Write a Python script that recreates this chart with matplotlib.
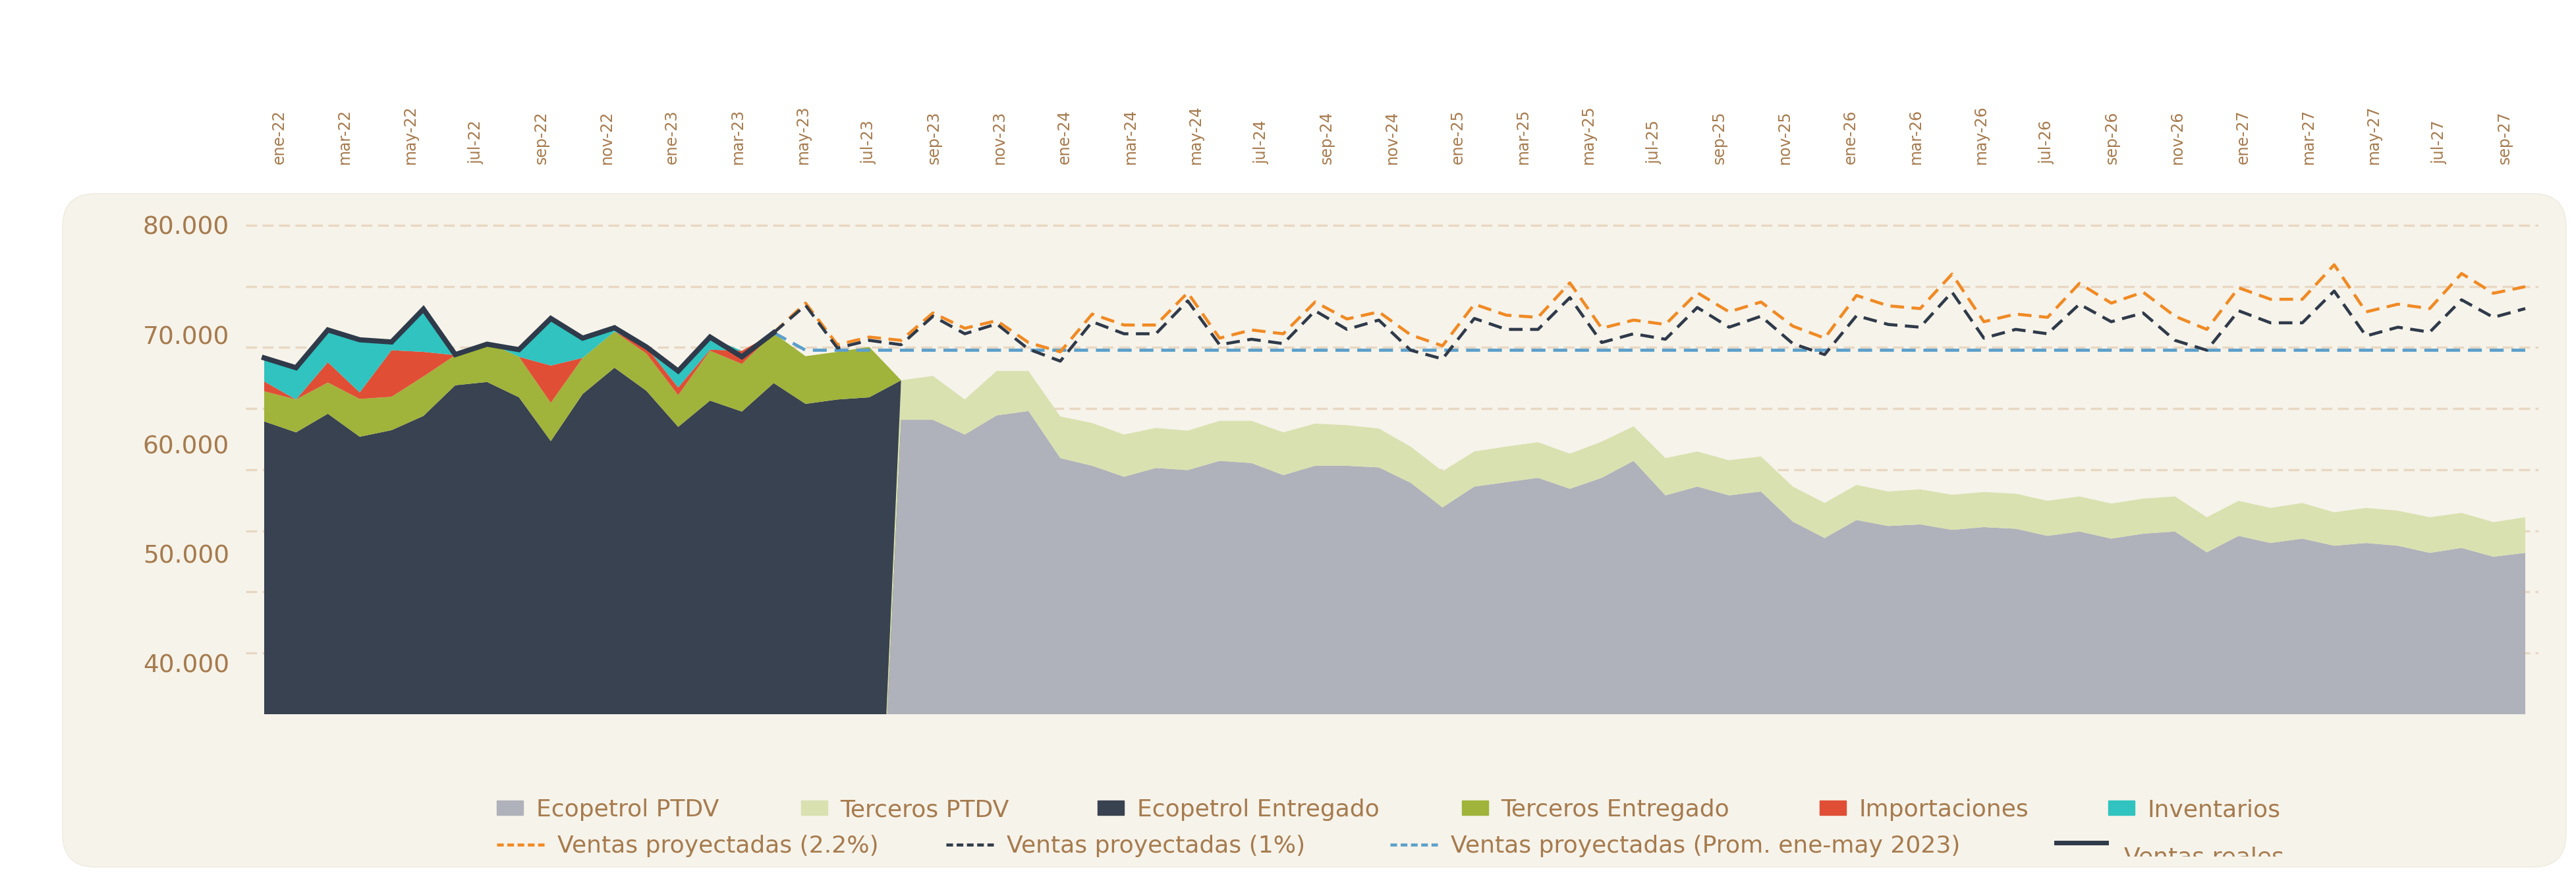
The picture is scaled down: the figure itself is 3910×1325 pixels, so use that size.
import matplotlib
matplotlib.use("Agg")
import matplotlib.pyplot as plt
from matplotlib.patches import FancyBboxPatch, Patch
from matplotlib.lines import Line2D
from matplotlib.transforms import Bbox
import numpy as np

W, H = 3910, 1325

# --- datos -----------------------------------------------------------------
meses = ["ene", "feb", "mar", "abr", "may", "jun", "jul", "ago", "sep", "oct", "nov", "dic"]
etiquetas = [m + "-" + str(a) for a in range(22, 28) for m in meses]   # ene-22 .. dic-27

# historico (ene-22 .. sep-23)
ecopetrol_entregado = [62100, 61100, 62800, 60700, 61300, 62600, 65400, 65700, 64300, 60300, 64600,
                       67000, 64900, 61600, 64000, 63000, 65600, 63700, 64100, 64300, 65850]
terceros_entregado = [2750, 3000, 2850, 3450, 3050, 3600, 2750, 3650, 3700, 3500, 3300,
                      3300, 3400, 2900, 4550, 4350, 4550, 4350, 4350, 4600, 0]
importaciones = [900, 0, 1850, 600, 4250, 2250, 0, 0, 0, 3400, 0,
                 0, 600, 700, 100, 1200, 0, 0, 0, 0, 0]
inventarios = [2100, 2850, 2950, 4800, 750, 3900, 50, 0, 650, 4300, 1800,
               350, 0, 1500, 1100, 0, 0, 0, 0, 0, 0]
ventas_reales = [67900, 67000, 70450, 69550, 69350, 72350, 68200, 69150, 68650, 71500, 69700,
                 70650, 68900, 66700, 69800, 68000, 70200]

# proyeccion (jul-23 .. dic-27)
ecopetrol_ptdv = [0, 62250, 62250, 60900, 62650, 63050, 58750, 58050, 57050, 57850, 57650,
                  58500, 58300, 57200, 58050, 58050, 57900, 56500, 54250, 56150, 56550,
                  56950, 55950, 56950, 58500, 55350, 56150, 55350, 55700, 52950, 51450,
                  53100, 52550, 52700, 52200, 52450, 52300, 51650, 52050, 51400, 51850,
                  52050, 50150, 51650, 51000, 51400, 50750, 51000, 50750, 50100, 50550,
                  49750, 50100]
terceros_ptdv = [0, 3600, 4000, 3200, 4050, 3650, 3800, 3900, 3850, 3650, 3600,
                 3650, 3850, 3900, 3850, 3700, 3550, 3300, 3300, 3200, 3250,
                 3250, 3200, 3300, 3150, 3400, 3200, 3200, 3200, 3200, 3200,
                 3200, 3150, 3200, 3200, 3200, 3200, 3200, 3200, 3200, 3200,
                 3200, 3200, 3200, 3200, 3250, 3050, 3200, 3200, 3250, 3200,
                 3150, 3250]

# ventas proyectadas (may-23 .. dic-27)
proy_22 = [70200, 72900, 69100, 69800, 69500, 72000, 70600, 71300, 69300, 68450, 71900,
           70900, 70900, 73850, 69700, 70450, 70100, 73000, 71450, 72100, 70000, 69000,
           72800, 71800, 71600, 74750, 70600, 71350, 70950, 73850, 72100, 73000, 70800,
           69700, 73600, 72650, 72400, 75550, 71200, 71900, 71600, 74700, 72900, 73900,
           71700, 70500, 74300, 73250, 73250, 76400, 72100, 72800, 72400, 75600, 73800, 74400]
proy_1 = [70200, 72700, 68800, 69500, 69100, 71700, 70100, 71000, 68700, 67600, 71200,
          70100, 70100, 73100, 69100, 69600, 69200, 72200, 70500, 71350, 68600, 67800,
          71500, 70500, 70500, 73400, 69300, 70100, 69600, 72500, 70700, 71700, 69200,
          68200, 71750, 70950, 70700, 73900, 69700, 70500, 70100, 72800, 71200, 72000,
          69500, 68600, 72200, 71100, 71100, 74000, 69900, 70700, 70250, 73200, 71600, 72400]
prom_ene_may_2023 = 68600

# --- estilo ------------------------------------------------------------------
c_texto = "#A67B4E"
c_panel = "#F6F3EA"
c_grid = "#E8D7C2"
c_gris = "#AFB2BA"
c_verde_claro = "#D9E1B0"
c_oscuro = "#394250"
c_oliva = "#A0B33A"
c_rojo = "#E04E35"
c_turquesa = "#30C3BF"
c_naranja = "#F08A24"
c_azul = "#5B9FCB"
c_linea = "#2F3A4A"
guion = (4.5, 2.5)

fig = plt.figure(figsize=(W / 100, H / 100), dpi=100, facecolor="white")

# panel de fondo redondeado
panel = FancyBboxPatch((95 / W, (H - 1316) / H), 3800 / W, 1022 / H,
                       boxstyle="round,pad=0,rounding_size=" + str(50 / W),
                       mutation_aspect=W / H, transform=fig.transFigure,
                       facecolor=c_panel, edgecolor="#EEEADF", lw=1, zorder=0.5)
fig.patches.append(panel)

rect = [373 / W, 1 - 1084 / H, 3480 / W, 784 / H]

# rejilla (desalineada respecto a las etiquetas, como en el original)
ax_grid = fig.add_axes(rect, zorder=1)
ax_grid.set_ylim(0, 84528)
ax_grid.set_yticks(range(10000, 80001, 10000))
ax_grid.yaxis.grid(True, color=c_grid, lw=2.4, linestyle=(0, (5, 2.5)))
ax_grid.tick_params(length=0, labelleft=False, labelbottom=False)
ax_grid.set_xticks([])
ax_grid.patch.set_visible(False)
for s in ax_grid.spines.values():
    s.set_visible(False)

ax = fig.add_axes(rect, zorder=2)
ax.patch.set_visible(False)
for s in ax.spines.values():
    s.set_visible(False)

x_hist = np.arange(len(ecopetrol_entregado))
ax.stackplot(x_hist, ecopetrol_entregado, terceros_entregado, importaciones, inventarios,
             colors=[c_oscuro, c_oliva, c_rojo, c_turquesa], lw=0)

x_proy = np.arange(19, 19 + len(ecopetrol_ptdv))
ax.stackplot(x_proy, ecopetrol_ptdv, terceros_ptdv, colors=[c_gris, c_verde_claro], lw=0)

x_v = np.arange(16, 16 + len(proy_22))
prom = [ventas_reales[-1]] + [prom_ene_may_2023] * (len(x_v) - 1)
ax.plot(x_v, prom, color=c_azul, lw=3.4, dashes=guion)
ax.plot(x_v, proy_22, color=c_naranja, lw=3.3, dashes=guion)
ax.plot(x_v, proy_1, color=c_linea, lw=3.3, dashes=guion)
ax.plot(np.arange(len(ventas_reales)), ventas_reales, color=c_linea, lw=5.6,
        solid_joinstyle="miter")

ax.set_xlim(-0.579, 71.414)
ax.set_ylim(35368, 82526)
ax.set_xticks([])
yt = list(range(40000, 80001, 10000))
ax.set_yticks(yt)
ax.set_yticklabels([f"{v:,}".replace(",", ".") for v in yt])
ax.tick_params(axis="y", length=0, pad=18, labelsize=27, labelcolor=c_texto)

# etiquetas de meses arriba
ax_lab = fig.add_axes(rect, zorder=3)
ax_lab.patch.set_visible(False)
for s in ax_lab.spines.values():
    s.set_visible(False)
ax_lab.set_xlim(-1.027, 69.03)
ax_lab.set_yticks([])
ax_lab.set_xticks(range(0, 69, 2))
ax_lab.set_xticklabels(etiquetas[0:69:2])
ax_lab.xaxis.tick_top()
ax_lab.tick_params(axis="x", length=0, pad=37, labelsize=17, labelcolor=c_texto,
                   labelrotation=90)

# leyenda
fs = 26
items = [
    (Patch(color=c_gris), "Ecopetrol PTDV", 754, 1229, 1.1),
    (Patch(color=c_verde_claro), "Terceros PTDV", 1216, 1229, 1.1),
    (Patch(color=c_oscuro), "Ecopetrol Entregado", 1666, 1229, 1.1),
    (Patch(color=c_oliva), "Terceros Entregado", 2219, 1229, 1.1),
    (Patch(color=c_rojo), "Importaciones", 2762, 1229, 1.1),
    (Patch(color=c_turquesa), "Inventarios", 3200, 1229, 1.1),
    (Line2D([], [], color=c_naranja, lw=3.3, dashes=(2.2, 1.2)), "Ventas proyectadas (2.2%)", 754, 1284, 2.0),
    (Line2D([], [], color=c_linea, lw=3.3, dashes=(2.2, 1.2)), "Ventas proyectadas (1%)", 1436, 1284, 2.0),
    (Line2D([], [], color=c_azul, lw=3.3, dashes=(2.2, 1.2)), "Ventas proyectadas (Prom. ene-may 2023)", 2110, 1284, 2.0),
    (Line2D([], [], color=c_linea, lw=5), "", 3121, 1281, 2.1),
]
for h, lab, x, y, hl in items:
    fig.legend([h], [lab], loc="center left", bbox_to_anchor=(x / W, 1 - y / H),
               frameon=False, fontsize=fs, labelcolor=c_texto, handlelength=hl,
               handleheight=0.58, handletextpad=0.55, borderpad=0, borderaxespad=0)

t = fig.text(3224 / W, 1 - 1284 / H, "Ventas reales", fontsize=fs, color=c_texto,
             ha="left", va="top")
t.set_clip_box(Bbox.from_extents(0, H - 1300, W, H))
t.set_clip_on(True)

fig.savefig("out.png", dpi=100, facecolor="white")
